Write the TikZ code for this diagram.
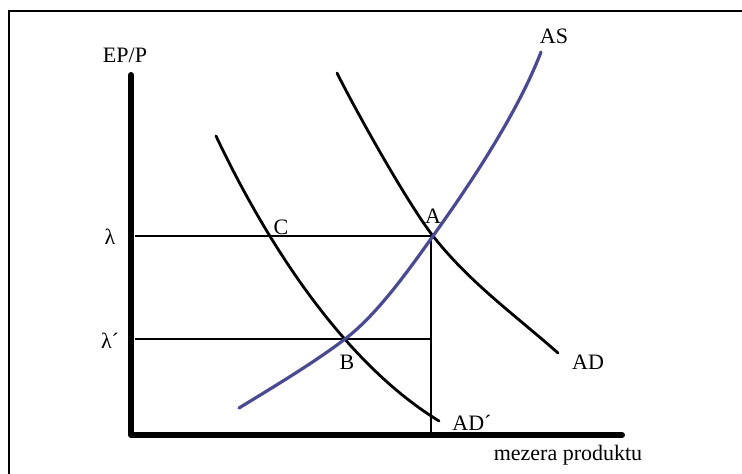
\documentclass[tikz,border=0pt]{standalone}
\usepackage{fontspec}
\setmainfont{Liberation Serif}
\usetikzlibrary{positioning}
\definecolor{asblue}{RGB}{72,72,160}

\begin{document}
\begin{tikzpicture}[
        x=1pt, y=-1pt,
        axis/.style={line width=6pt, line join=round, line cap=round},
        demand/.style={line width=2.8pt, line cap=round},
        supply/.style={line width=3.2pt, draw=asblue, line cap=round},
        guide/.style={line width=1.1pt},
        lbl/.style={font=\fontsize{22}{24}\selectfont, inner sep=0pt}
    ]
        \useasboundingbox (0,0) rectangle (742,474);
        \draw[line width=2.5pt] (9,474) |- (742,11);

        % axes
        \coordinate (ytop) at (131,75);
        \coordinate (origin) at (131,435);
        \coordinate (xend) at (622,435);
        \draw[axis] (ytop) -- (origin) -- (xend);

        % equilibrium points
        \coordinate (ptA) at (433,236);
        \coordinate (ptB) at (345,339);
        \coordinate (ptC) at (270,236);
        \coordinate (lam) at (135,236);
        \coordinate (lamp) at (135,339);
        \coordinate (lampend) at (431,339);
        \coordinate (footA) at (431,435);

        \draw[guide] (lam) -- (ptA);
        \draw[guide] (lamp) -- (lampend);
        \draw[guide] (ptA -| footA) -- (footA);

        % curves
        \draw[demand] (337,73) .. controls (357,113) and (408,204) .. (ptA)
                      .. controls (470,283) and (515,315) .. (558,353);
        \draw[demand] (216,136) .. controls (259,227) and (336,358) .. (439,421);
        \draw[supply] (239,408) .. controls (275,386) and (315,362) .. (ptB)
                      .. controls (378,314) and (410,268) .. (ptA)
                      .. controls (458,201) and (515,120) .. (541,52);

        % labels
        \node[lbl] (epp) at (125,55) {EP/P};
        \node[lbl] (as) at (554,36) {AS};
        \node[lbl] (ad) at (588,362) {AD};
        \node[lbl] (adp) at (472,423) {AD´};
        \node[lbl] (xlab) at (568,455) {mezera produktu};
        \node[lbl] (lamlab) at (110,237) {λ};
        \node[lbl] (lamplab) at (110,341) {λ´};
        \node[lbl, above=12pt of ptA] (la) {A};
        \node[lbl] (lb) at (347,362) {B};
        \node[lbl] (lc) at (281,227) {C};

    \end{tikzpicture}
\end{document}
